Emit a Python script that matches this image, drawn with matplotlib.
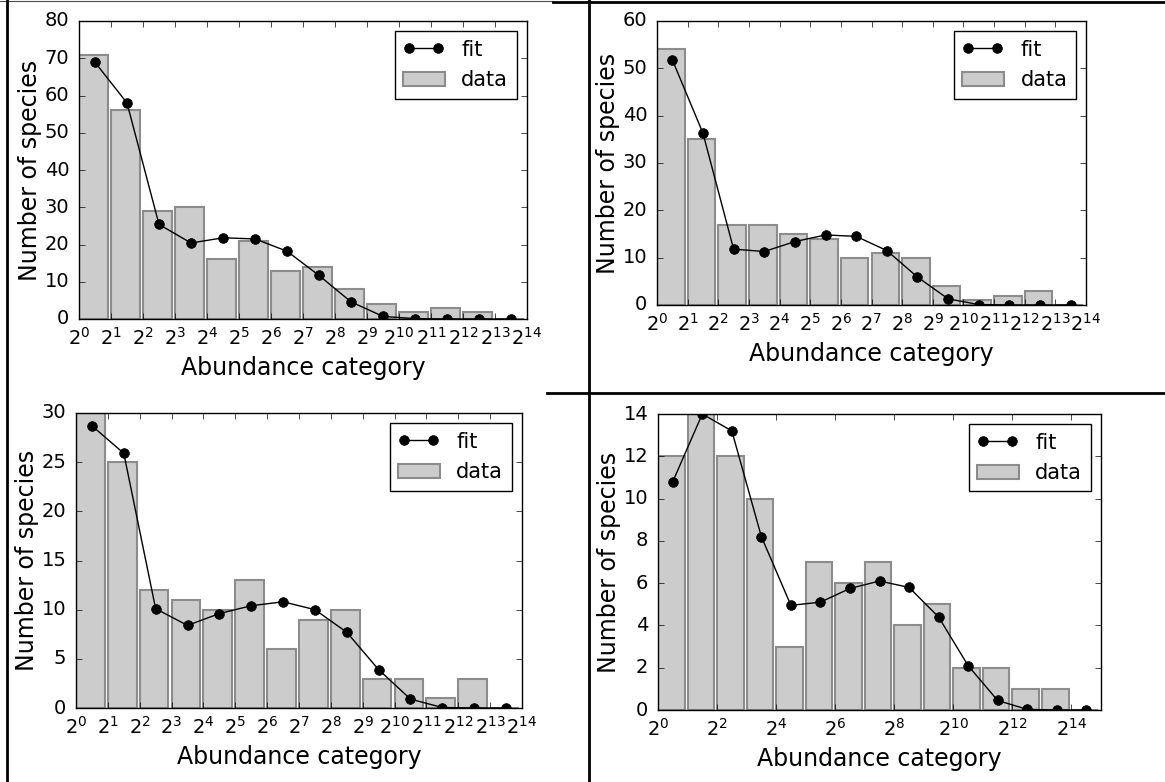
import numpy as np
import matplotlib
matplotlib.use('Agg')
import matplotlib.pyplot as plt
from matplotlib.lines import Line2D
from matplotlib.ticker import NullLocator

plt.style.use('classic')

# counts per abundance octave (bin k covers 2^k .. 2^(k+1))
data_a = [71, 56, 29, 30, 16, 21, 13, 14, 8, 4, 2, 3, 2, 0]
fit_a = [68.9, 58.0, 25.4, 20.4, 21.8, 21.5, 18.2, 11.7, 4.6, 0.7, 0.1, 0.0, 0.0, 0.0]

data_b = [54, 35, 17, 17, 15, 14, 10, 11, 10, 4, 1, 2, 3, 0]
fit_b = [51.8, 36.3, 11.8, 11.3, 13.4, 14.8, 14.5, 11.5, 5.9, 1.3, 0.1, 0.0, 0.0, 0.0]

data_c = [30, 25, 12, 11, 10, 13, 6, 9, 10, 3, 3, 1, 3, 0]
fit_c = [28.7, 25.9, 10.1, 8.4, 9.6, 10.4, 10.8, 10.0, 7.7, 3.9, 0.9, 0.05, 0.0, 0.0]

data_d = [12, 14, 12, 10, 3, 7, 6, 7, 4, 5, 2, 2, 1, 1, 0]
fit_d = [10.8, 14.0, 13.2, 8.2, 4.95, 5.1, 5.75, 6.1, 5.8, 4.4, 2.1, 0.45, 0.03, 0.0, 0.0]

y_max = [80, 60, 30, 14]
y_step = [10, 10, 5, 2]
x_tick_step = [1, 1, 1, 2]

W, H = 1165, 782
# axes boxes in pixels: left, top, right, bottom
boxes = [(79, 21, 527, 319), (657, 21, 1086, 305),
         (76, 413, 522, 708), (658, 414, 1101, 710)]


def draw_panel(ax, counts, fit, ymax, ystep, tstep):
    n = len(counts)
    left = 2.0 ** np.arange(n)
    bars = ax.bar(left, counts, width=left * (2 ** 0.9 - 1), align='edge',
                  color='0.8', edgecolor='0.55', linewidth=1.5, label='data')
    line, = ax.plot(left * np.sqrt(2), fit, 'ko-', markersize=7, linewidth=1,
                    label='fit')
    ax.set_xscale('log', base=2)
    ax.set_xlim(1, 2.0 ** n)
    ax.set_xticks(2.0 ** np.arange(0, n + 1, tstep))
    ax.xaxis.set_minor_locator(NullLocator())
    ax.set_ylim(0, ymax)
    ax.set_yticks(np.arange(0, ymax + 1, ystep))
    ax.tick_params(labelsize=14)
    ax.tick_params(axis='y', pad=7)
    ax.tick_params(axis='x', pad=6)
    ax.set_xlabel('Abundance category', fontsize=17)
    ax.set_ylabel('Number of species', fontsize=17, labelpad=2)
    ax.legend([line, bars], ['fit', 'data'], loc='upper right', fontsize=15,
              numpoints=2)


fig = plt.figure(figsize=(W / 100, H / 100), dpi=100, facecolor='white')

all_data = [data_a, data_b, data_c, data_d]
all_fit = [fit_a, fit_b, fit_c, fit_d]
for i, (l, t, r, b) in enumerate(boxes):
    ax = fig.add_axes([l / W, 1 - b / H, (r - l) / W, (b - t) / H])
    draw_panel(ax, all_data[i], all_fit[i], y_max[i], y_step[i], x_tick_step[i])

# table borders around the panels
def border(x0, y0, x1, y1, lw=2.0, color='k'):
    fig.add_artist(Line2D([x0 / W, x1 / W], [1 - y0 / H, 1 - y1 / H],
                          transform=fig.transFigure, color=color, lw=lw))

border(0, 1, 553, 1, lw=0.8, color='0.3')
border(553, 2, W, 2)
border(7, 0, 7, H)
border(589, 0, 589, H)
border(547, 393, W, 393)

fig.savefig('out.png', dpi=100, facecolor='white')
